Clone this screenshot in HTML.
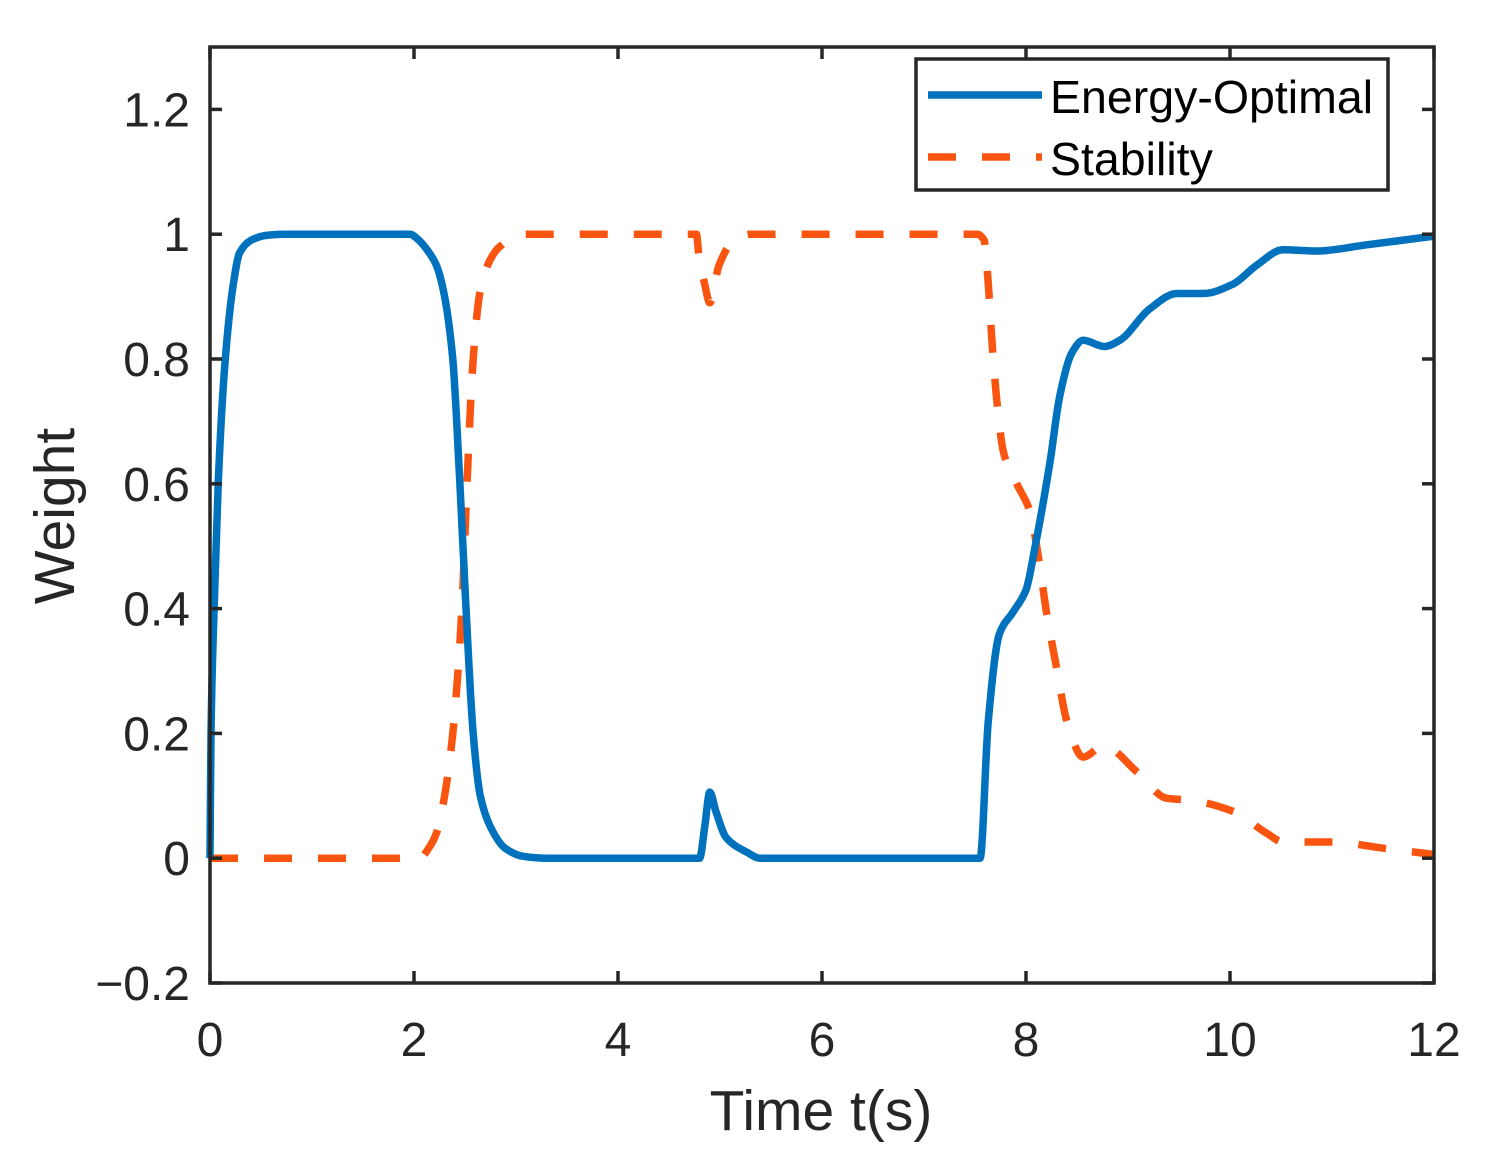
<!DOCTYPE html>
<html><head><meta charset="utf-8"><style>
html,body{margin:0;padding:0;background:#fff;}
svg{display:block;font-family:"Liberation Sans",Arial,sans-serif;}
</style></head><body>
<svg id="chart" width="1490" height="1162" viewBox="0 0 1490 1162" xmlns="http://www.w3.org/2000/svg">
<rect width="1490" height="1162" fill="#fff"/>
<g id="plot"></g>
<g id="axes"></g>
<g id="legend">
  <rect x="916" y="59" width="472" height="131" fill="#fff" stroke="#262626" stroke-width="3.5"/>
  <line x1="928" y1="95" x2="1042" y2="95" stroke="#0072BD" stroke-width="7.5"/>
  <text x="1050" y="113" font-size="46.5" fill="#000">Energy-Optimal</text>
  <line x1="928" y1="157" x2="1042" y2="157" stroke="#FA5510" stroke-width="7.5" stroke-dasharray="28 26"/>
  <text x="1050" y="175" font-size="46.5" fill="#000">Stability</text>
</g>
<text x="821" y="1130" font-size="57" text-anchor="middle" fill="#262626">Time t(s)</text>
<text transform="translate(74,516) rotate(-90)" font-size="57" text-anchor="middle" fill="#262626">Weight</text>
</svg>
<script>
const xTicks = [0,2,4,6,8,10,12];
const yTicks = [-0.2,0,0.2,0.4,0.6,0.8,1,1.2];
const yTickLabels = ["\u22120.2","0","0.2","0.4","0.6","0.8","1","1.2"];
const energyT = [0,0.01,0.04,0.08,0.15,0.22,0.29,0.4,0.55,0.72,1.96,2.05,2.15,2.22,2.3,2.38,2.45,2.51,2.58,2.65,2.75,2.9,3.07,3.3,4.8,4.85,4.9,4.96,5.06,5.26,5.39,7.55,7.63,7.74,7.875,8.0,8.09,8.24,8.33,8.45,8.56,8.77,8.92,9.21,9.48,9.74,10.03,10.26,10.52,10.85,11.34,12];
const energyV = [0,0.2,0.4,0.6,0.8,0.91,0.97,0.99,0.998,1,1,0.99,0.97,0.95,0.9,0.8,0.6,0.4,0.2,0.1,0.05,0.015,0.003,0,0,0.05,0.106,0.075,0.033,0.01,0,0,0.22,0.36,0.395,0.43,0.5,0.64,0.74,0.81,0.83,0.82,0.83,0.88,0.905,0.905,0.92,0.95,0.975,0.973,0.983,0.997];
const stabT = [0,2.06,2.14,2.22,2.3,2.38,2.47,2.52,2.58,2.65,2.75,2.84,3.07,4.77,4.79,4.85,4.9,4.99,5.11,5.29,7.52,7.59,7.63,7.67,7.71,7.78,7.91,8.04,8.12,8.2,8.3,8.4,8.56,8.76,9.09,9.38,9.61,10.03,10.36,10.52,11.01,11.5,12];
const stabV = [0,0,0.015,0.04,0.1,0.2,0.4,0.6,0.8,0.91,0.96,0.98,1,1,0.97,0.92,0.89,0.95,0.985,1,1,0.99,0.92,0.82,0.74,0.65,0.6,0.555,0.485,0.395,0.305,0.22,0.162,0.18,0.138,0.096,0.093,0.075,0.04,0.026,0.026,0.016,0.006];

const X0=210, X1=1434, Y0=47, Y1=983;
const xMin=0,xMax=12,yMin=-0.2,yMax=1.3;
function sx(t){return X0+(t-xMin)/(xMax-xMin)*(X1-X0);}
function sy(v){return Y1-(v-yMin)/(yMax-yMin)*(Y1-Y0);}
const NS="http://www.w3.org/2000/svg";
function mk(tag,attrs,parent){const e=document.createElementNS(NS,tag);for(const k in attrs)e.setAttribute(k,attrs[k]);parent.appendChild(e);return e;}
const plot=document.getElementById('plot'), axes=document.getElementById('axes');

// monotone cubic (Fritsch-Carlson) path in data space
function pathD(ts,vs){
  const n=ts.length, xs=ts.map(sx), ys=vs.map(sy);
  const d=[], m=new Array(n);
  for(let i=0;i<n-1;i++) d.push((ys[i+1]-ys[i])/(xs[i+1]-xs[i]));
  m[0]=d[0]; m[n-1]=d[n-2];
  for(let i=1;i<n-1;i++){
    if(d[i-1]*d[i]<=0) m[i]=0;
    else { const h0=xs[i]-xs[i-1], h1=xs[i+1]-xs[i];
      m[i]=3*(h0+h1)/((2*h1+h0)/d[i-1]+(h1+2*h0)/d[i]); }
  }
  let s='M'+xs[0].toFixed(1)+' '+ys[0].toFixed(1);
  for(let i=0;i<n-1;i++){
    const h=(xs[i+1]-xs[i])/3;
    s+=' C'+(xs[i]+h).toFixed(1)+' '+(ys[i]+m[i]*h).toFixed(1)+' '+(xs[i+1]-h).toFixed(1)+' '+(ys[i+1]-m[i+1]*h).toFixed(1)+' '+xs[i+1].toFixed(1)+' '+ys[i+1].toFixed(1);
  }
  return s;
}
const sPath=mk('path',{d:pathD(stabT,stabV),fill:'none',stroke:'#FA5510','stroke-width':7.5,'stroke-dasharray':'28 26','stroke-linejoin':'round'},plot);


const ePath=mk('path',{d:pathD(energyT,energyV),fill:'none',stroke:'#0072BD','stroke-width':7.5,'stroke-linejoin':'round'},plot);



const box=mk('rect',{x:X0,y:Y0,width:X1-X0,height:Y1-Y0,fill:'none',stroke:'#262626','stroke-width':3.5},axes);


xTicks.forEach(t=>{
  const x=sx(t);
  mk('line',{x1:x,y1:Y1,x2:x,y2:Y1-12,stroke:'#262626','stroke-width':3.5},axes);
  mk('line',{x1:x,y1:Y0,x2:x,y2:Y0+12,stroke:'#262626','stroke-width':3.5},axes);
  const tx=mk('text',{x:x,y:1056,'font-size':48,'text-anchor':'middle',fill:'#262626'},axes);
  tx.textContent=String(t);
  
  
});
yTicks.forEach((v,i)=>{
  const y=sy(v);
  mk('line',{x1:X0,y1:y,x2:X0+12,y2:y,stroke:'#262626','stroke-width':3.5},axes);
  mk('line',{x1:X1,y1:y,x2:X1-12,y2:y,stroke:'#262626','stroke-width':3.5},axes);
  const tx=mk('text',{x:190,y:y+17,'font-size':48,'text-anchor':'end',fill:'#262626'},axes);
  tx.textContent=yTickLabels[i];
  
  
});
</script>
</body></html>
